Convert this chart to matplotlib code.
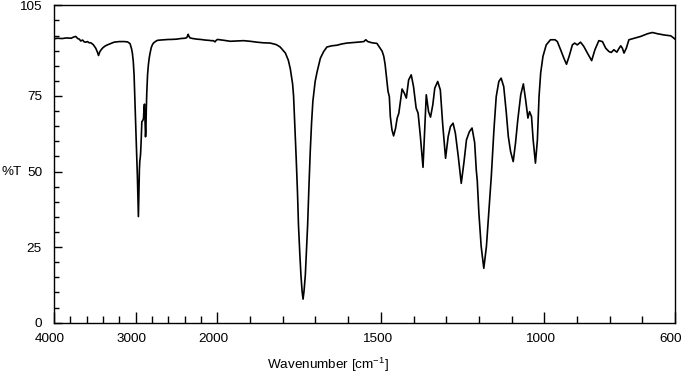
import numpy as np
import matplotlib
matplotlib.use("Agg")
import matplotlib.pyplot as plt
from matplotlib import transforms

plt.rcParams['font.family'] = ['Liberation Sans', 'DejaVu Sans']
plt.rcParams['mathtext.fontset'] = 'custom'
plt.rcParams['mathtext.rm'] = 'Liberation Sans'

# --- IR spectrum (wavenumber cm-1, %T) ---
wavenumber = [
    4000, 3960, 3900, 3850, 3790, 3760, 3734, 3710, 3690, 3673, 3650, 3630,
    3612, 3590, 3570, 3550, 3520, 3489, 3470, 3455, 3440, 3420, 3400, 3370,
    3347, 3300, 3265, 3200, 3142, 3100, 3069, 3050, 3041, 3030, 3020, 3010,
    2999, 2990, 2980, 2972, 2967, 2962, 2955, 2950, 2946, 2940, 2932, 2925,
    2915, 2905, 2898, 2893, 2887, 2880, 2876, 2870, 2864, 2855, 2845, 2835,
    2824, 2810, 2795, 2783, 2760, 2735, 2700, 2650, 2600, 2571, 2500, 2450,
    2400, 2375, 2365, 2358, 2350, 2335, 2300, 2250, 2203, 2150, 2100, 2080,
    2050, 2030, 2015, 2000,
    1979, 1961, 1940, 1920, 1900, 1879, 1860, 1838, 1820, 1808, 1792, 1783,
    1777, 1770, 1767, 1763, 1759, 1755, 1752, 1748, 1744.5, 1741, 1738, 1735,
    1731, 1728, 1724, 1720, 1716, 1712, 1708, 1704, 1701, 1695, 1685, 1675,
    1665, 1650, 1634, 1620, 1604, 1580, 1560, 1552, 1546, 1540, 1527, 1512,
    1507, 1500, 1496, 1491, 1487, 1484, 1478, 1474, 1471, 1466, 1461, 1455,
    1450, 1445, 1440, 1435, 1428, 1422, 1415, 1407, 1400, 1392, 1386, 1379,
    1371, 1366, 1361, 1354, 1348, 1341, 1335, 1326, 1318, 1311, 1302, 1294,
    1287, 1279, 1272, 1263, 1254, 1246, 1238, 1229, 1221, 1213, 1208, 1205,
    1200, 1193, 1185, 1177, 1170, 1162, 1154, 1147, 1139, 1132, 1124, 1116,
    1110, 1103, 1095, 1088, 1081, 1072, 1064, 1057, 1050, 1045, 1039, 1034,
    1027, 1021, 1016, 1011, 1004, 994, 981, 967, 960, 950, 940, 932, 924,
    914, 907, 899, 889, 879, 868, 855, 845, 833, 822, 812, 802, 795, 787,
    778, 771, 766, 761, 756, 749, 741, 725, 705, 684, 669, 654, 634, 613,
    603, 600,
]
transmittance = [
    93.9, 94.1, 94.0, 94.2, 94.1, 94.5, 94.7, 94.0, 93.8, 93.2, 93.5, 92.9,
    92.8, 93.0, 92.6, 92.6, 92.0, 90.8, 89.6, 88.4, 89.6, 90.4, 91.0, 91.6,
    91.9, 92.4, 92.8, 93.0, 93.0, 92.9, 92.3, 90.5, 89.2, 86.5, 82.0, 74.0,
    65.4, 57.0, 48.9, 40.0, 35.1, 42.0, 50.5, 53.5, 54.2, 56.0, 61.0, 66.5,
    66.8, 67.5, 71.0, 72.3, 68.0, 61.5, 63.0, 71.0, 76.5, 82.0, 85.3, 87.5,
    89.2, 91.0, 92.0, 92.5, 93.0, 93.4, 93.5, 93.6, 93.7, 93.7, 93.8, 94.0,
    94.1, 94.3, 95.0, 95.4, 94.8, 94.2, 94.0, 93.8, 93.7, 93.5, 93.4, 93.3,
    93.3, 92.9, 93.4, 93.7,
    93.4, 93.1, 93.2, 93.3, 93.1, 92.8, 92.6, 92.5, 92.0, 91.2, 89.2, 86.8,
    84.0, 79.0, 75.0, 65.0, 54.4, 43.0, 32.3, 23.0, 15.8, 10.5, 7.8, 10.5,
    15.8, 23.0, 32.3, 45.0, 56.6, 66.0, 73.2, 77.0, 79.8, 83.0, 87.5, 89.7,
    91.2, 91.6, 91.8, 92.2, 92.5, 92.7, 92.9, 93.0, 93.6, 93.0, 92.6, 92.4,
    91.6, 90.5, 89.8, 88.1, 85.5, 82.6, 76.5, 74.8, 68.2, 63.8, 61.8, 64.3,
    67.7, 69.3, 73.2, 77.3, 75.9, 74.3, 80.3, 82.0, 78.1, 71.0, 69.3, 61.6,
    51.4, 63.8, 75.4, 69.8, 68.0, 72.1, 77.6, 79.8, 77.0, 66.0, 54.4, 61.6,
    64.9, 66.0, 62.7, 54.9, 46.1, 52.8, 60.5, 63.2, 64.4, 59.6, 50.5, 47.0,
    36.2, 25.2, 18.0, 25.2, 36.2, 48.5, 63.8, 74.8, 79.8, 80.9, 78.1, 69.3,
    61.6, 56.6, 53.3, 59.4, 67.1, 75.4, 79.0, 73.7, 67.7, 69.8, 68.2, 60.5,
    52.8, 60.5, 74.8, 82.6, 88.1, 91.9, 93.6, 93.6, 93.0, 90.3, 87.5, 85.5, 88.1,
    91.9, 92.5, 91.9, 92.8, 91.4, 89.2, 86.7, 90.3, 93.3, 93.0, 90.8, 89.7, 89.4,
    90.3, 89.5, 90.8, 91.6, 90.8, 89.2, 90.8, 93.6, 94.1, 94.7, 95.6, 96.0,
    95.6, 95.2, 94.9, 94.1, 93.8,
]

x_major = [4000, 3000, 2000, 1500, 1000, 600]
x_minor = [3800, 3600, 3400, 3200, 2800, 2600, 2400, 2200,
           1900, 1800, 1700, 1600, 1400, 1300, 1200, 1100, 900, 800, 700]
y_major = [0, 25, 50, 75, 105]
y_minor = [v for v in range(5, 105, 5) if v not in y_major]

fs = 9.7


# axis compressed 4x above 2000 cm-1
def fwd(w):
    w = np.asarray(w, dtype=float)
    return np.where(w > 2000, 2000 + (w - 2000) / 4.0, w)


def inv(u):
    u = np.asarray(u, dtype=float)
    return np.where(u > 2000, 2000 + (u - 2000) * 4.0, u)


fig = plt.figure(figsize=(6.83, 3.75), dpi=100)
ax = fig.add_axes([54 / 683, 1 - 322.7 / 375, 621 / 683, 317.4 / 375])

ax.plot(wavenumber, transmittance, color="black", lw=1.2)

ax.set_xscale('function', functions=(fwd, inv))
ax.set_xlim(4000, 600)
ax.set_ylim(0, 105)

ax.set_xticks(x_major)
ax.set_xticks(x_minor, minor=True)
ax.set_xticklabels([str(v) for v in x_major])
ax.set_yticks(y_major)
ax.set_yticks(y_minor, minor=True)
ax.set_yticklabels([str(v) for v in y_major])

ax.tick_params(axis='x', which='major', direction='in', length=7.7, width=1.0,
               labelsize=fs, pad=7.5)
ax.tick_params(axis='x', which='minor', direction='in', length=5.3, width=1.0)
ax.tick_params(axis='y', which='major', direction='in', length=6.0, width=1.0,
               labelsize=fs, pad=8.6)
ax.tick_params(axis='y', which='minor', direction='in', length=3.6, width=1.0)

for s in ax.spines.values():
    s.set_linewidth(1.0)

# tick labels sit a bit left of their ticks in the original
shift = transforms.ScaledTranslation(-4 / 100, 0, fig.dpi_scale_trans)
for lab in ax.get_xticklabels():
    lab.set_transform(lab.get_transform() + shift)

tr = transforms.blended_transform_factory(fig.transFigure, ax.transData)
ax.text(1 / 683, 50, "%T", transform=tr, ha='left', va='center', fontsize=fs)

fig.text(328 / 683, 1 - 365 / 375, r"Wavenumber [cm$^{\mathregular{-1}}$]",
         ha='center', va='center', fontsize=fs)

fig.savefig("out.png", dpi=100)
